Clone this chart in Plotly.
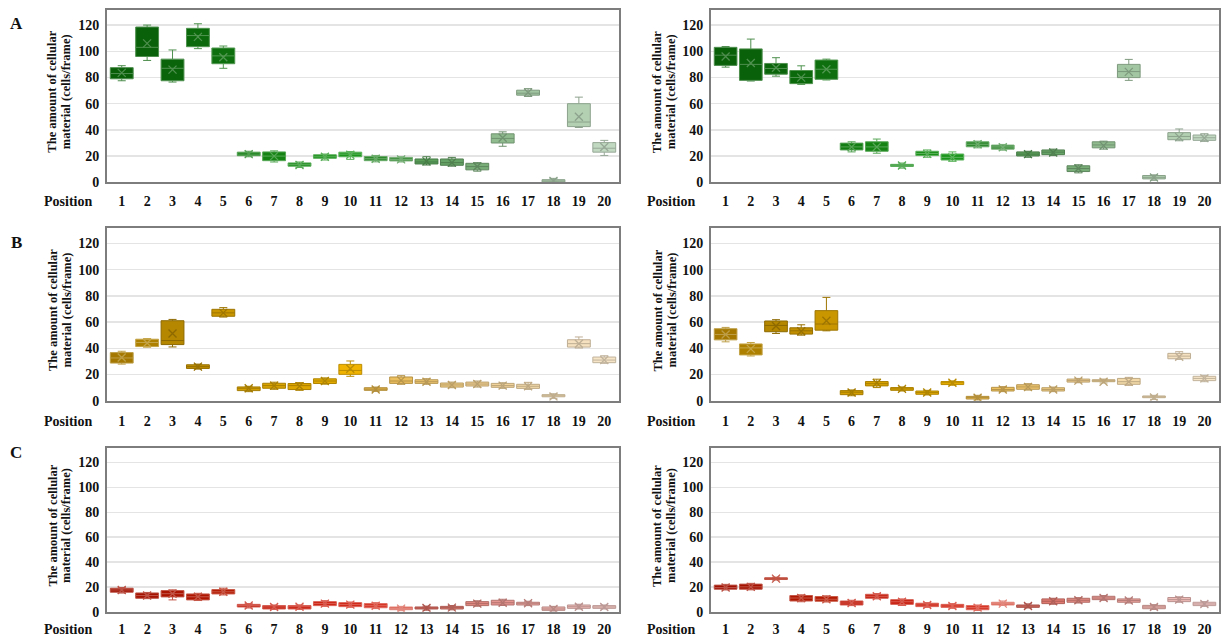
import plotly.graph_objects as go

# ---------------- data ----------------
positions = list(range(1, 21))
tick_labels = [str(p) for p in positions]
y_ticks = [0, 20, 40, 60, 80, 100, 120]
y_tick_labels = [str(v) for v in y_ticks]
panel_letters = ["A", "B", "C"]
y_title_line1 = "The amount of cellular"
y_title_line2 = "material (cells/frame)"
x_title = "Position"

# Panel A (left)
a_left_q1 = [79, 96, 77.5, 103.5, 90.5, 20.3, 16.5, 12.3, 18.3, 19.5, 16.5, 16.3, 14, 13, 9.5, 30, 66.5, 0.2, 42.5, 23]
a_left_med = [83, 103, 87, 112, 96.5, 21.5, 20, 13.5, 19.5, 21.5, 18, 17.5, 15.5, 15, 12, 33.5, 68, 1, 46, 26]
a_left_q3 = [87.5, 118.5, 94, 117.5, 102.5, 23, 23.2, 14.8, 21, 23, 19.7, 19, 17.8, 17.8, 14.5, 37, 70.3, 2, 60, 30.3]
a_left_lo = [77.5, 93, 76.5, 102, 87, 19.5, 15.5, 11.3, 17, 17.5, 15.6, 15.5, 13.2, 12.3, 8.5, 27.5, 65.5, 0, 41.8, 20.5]
a_left_hi = [89, 120, 101, 121, 104, 23.7, 24, 15.5, 21.6, 23.5, 20.5, 19.5, 19.5, 19, 15, 38.5, 71.5, 3, 65, 32]
a_left_mean = [83.5, 106, 86, 111, 95.5, 21.5, 20, 13.2, 19.5, 21, 18, 17.5, 16, 15, 12, 34, 68.5, 1, 50, 27]

# Panel A (right)
a_right_q1 = [89.2, 77.8, 82.5, 75.3, 78.6, 24.7, 23.7, 12.1, 20.4, 17, 27.1, 25.3, 20.1, 21.1, 8.2, 26.3, 79.9, 2.6, 32.5, 32]
a_right_med = [97, 90, 86.9, 80, 86.3, 27, 27, 12.8, 22, 19, 29, 27, 21.5, 23, 10.5, 28.5, 84.5, 3.8, 35, 34]
a_right_q3 = [103, 101.8, 90.7, 85.3, 93.3, 29.9, 30.9, 13.7, 23.7, 21.6, 30.9, 28.4, 23.2, 24.7, 12.6, 30.9, 90, 5.2, 37.9, 36.1]
a_right_lo = [87.9, 77.3, 81, 74.7, 78.1, 23.2, 22.2, 10.8, 19.1, 16, 26.3, 24.5, 19.1, 20.4, 7.2, 25.3, 77.8, 1.5, 31.7, 31.2]
a_right_hi = [103.6, 109.3, 95.1, 88.9, 94, 30.9, 33, 14.7, 24.7, 23.2, 31.4, 28.9, 23.7, 25.3, 13.4, 31.4, 93.8, 5.7, 40.7, 37.1]
a_right_mean = [96, 91, 87.4, 79.9, 86.3, 27, 27, 12.8, 21.7, 19, 29, 26.8, 21.5, 22.7, 10.5, 28, 84.3, 3.6, 34.5, 33.8]

# Panel B (left)
b_left_q1 = [28.7, 41.3, 42.8, 24.6, 64.4, 7.7, 9.5, 8.5, 13.1, 20.1, 7.9, 13.2, 13.2, 10.4, 11.2, 10.2, 9.4, 3, 40.9, 29]
b_left_med = [32.6, 44.4, 45.9, 26, 67, 9.5, 11.5, 11.5, 15, 23.1, 8.8, 15, 14.5, 12, 12.7, 11.5, 11, 3.5, 43.5, 31]
b_left_q3 = [36.7, 46.9, 61, 27.4, 69.7, 10.5, 13.3, 13.1, 16.7, 27.7, 9.9, 18.1, 16, 13.5, 14.2, 13.2, 12.5, 4.6, 46.5, 33.3]
b_left_lo = [27.9, 40.8, 41, 24.1, 63.8, 6.9, 8.7, 7.9, 12.6, 18.6, 7.1, 12.5, 12.5, 9.9, 10.4, 9.4, 8.6, 1.8, 40.2, 28.5]
b_left_hi = [37.7, 47.4, 62, 27.9, 71, 11, 14.1, 13.8, 17.4, 30.3, 10.4, 19.1, 16.8, 14.2, 15, 13.7, 14, 5.3, 48.6, 34.3]
b_left_mean = [33, 44, 51.3, 26, 67, 9.5, 11.5, 11, 15, 24.4, 8.5, 15.5, 14.5, 12, 12.7, 11.5, 11, 3.2, 43.5, 31]

# Panel B (right)
b_right_q1 = [46.4, 34.9, 52.6, 50.8, 53.8, 4.6, 11.3, 7.9, 4.9, 12.3, 1.3, 7.4, 8.7, 7.4, 14.2, 14.5, 12.5, 2.3, 32, 15.3]
b_right_med = [50.5, 40.3, 57.4, 53.3, 58.5, 6.5, 13, 9, 6.3, 13.7, 2.5, 8.5, 10.5, 8.5, 15.3, 15, 14.5, 3, 34, 17]
b_right_q3 = [54.9, 43.3, 60.8, 55.6, 68.7, 7.7, 14.6, 10, 7.4, 14.6, 3.3, 10.2, 12.2, 9.9, 16.5, 16, 17, 3.6, 36.1, 18.6]
b_right_lo = [44.9, 34.1, 51.3, 50, 53.3, 3.8, 10, 7.4, 4.4, 11.8, 0.5, 6.9, 8.1, 6.9, 13.7, 13.5, 11.7, 1, 31.5, 14.5]
b_right_hi = [55.9, 44.4, 61.8, 57.9, 78.8, 8.2, 16.4, 10.5, 7.9, 15.1, 4.1, 10.7, 13, 10.4, 17, 16.5, 17.8, 4.1, 37.4, 19.3]
b_right_mean = [50.5, 39.5, 57, 53, 61, 6.3, 13.5, 9, 6.3, 13.7, 2.3, 8.5, 10.5, 8.5, 15.3, 14.5, 14.5, 2.5, 33.5, 17]

# Panel C (left)
c_left_q1 = [15.7, 10.8, 11.9, 9.5, 14.3, 3.8, 2.2, 2.2, 4.9, 4.1, 3.2, 1.6, 2.2, 2.2, 4.9, 5.4, 5.4, 1.1, 2.7, 2.7]
c_left_med = [17.5, 13, 14.5, 12, 16, 5, 3.8, 4, 6.5, 5.7, 4.8, 2.5, 3, 3.3, 6.5, 7.2, 6.8, 2.2, 4, 3.8]
c_left_q3 = [18.9, 15.1, 17, 14.3, 17.8, 5.9, 4.9, 4.9, 8.1, 7.3, 6.5, 3.8, 3.8, 4.3, 8.1, 9.2, 7.6, 3.8, 5.4, 4.9]
c_left_lo = [15, 10.5, 9.5, 9, 13.5, 3, 1.8, 1.8, 4.3, 3.5, 2.5, 0.8, 1.2, 1.5, 4.4, 5, 4.9, 0.5, 2.2, 2.2]
c_left_hi = [19.5, 15.5, 17.6, 14.8, 18.9, 6.5, 5.4, 5.5, 8.9, 7.8, 7.3, 4.3, 4.5, 5, 8.8, 10, 8.4, 4.3, 6, 5.4]
c_left_mean = [17.5, 13, 14.5, 12, 16, 5, 3.8, 4, 6.5, 5.7, 4.8, 2.5, 3, 3.3, 6.5, 7.2, 6.8, 2.2, 4, 3.8]

# Panel C (right)
c_right_q1 = [18.1, 18.1, 25.9, 8.6, 8.4, 5.4, 10.8, 5.9, 4.1, 3.5, 1.6, 5.4, 3.5, 6.5, 7.6, 9.7, 7.6, 2.4, 8.1, 4.9]
c_right_med = [19.5, 20, 26.6, 11, 10, 7, 12.4, 8, 5.4, 4.6, 3.2, 6.5, 4.6, 8.4, 9.2, 11, 9, 3.8, 9.7, 6.2]
c_right_q3 = [21.4, 22.2, 27.3, 13, 12.2, 8.6, 14, 9.7, 6.8, 5.9, 4.9, 7.6, 5.4, 10.3, 10.8, 12.4, 10.3, 5.1, 11.4, 7.6]
c_right_lo = [17.5, 17.6, 25.5, 8, 7.8, 4.9, 10.3, 5, 3.5, 2.7, 1, 5, 3, 6, 7, 9.2, 7, 1.8, 7.6, 4.3]
c_right_hi = [22, 22.8, 27.8, 13.6, 12.8, 9.2, 14.6, 10.3, 7.3, 6.5, 5.4, 8.6, 6.3, 10.8, 11.3, 13, 10.8, 5.7, 12, 8.1]
c_right_mean = [19.5, 20, 26.6, 11, 10, 7, 12.4, 8, 5.4, 4.6, 3.2, 6.5, 4.6, 8.4, 9.2, 11, 9, 3.8, 9.7, 6.2]

# ---------------- styles ----------------
green_colors = ["#085f08", "#096209", "#0a650a", "#0b690b", "#0d6f0d",
                "#127d12", "#148314", "#178a17", "#1a901a", "#1d961d",
                "#2f8a2f", "#3f8f3f", "#5a9e5a", "#66a366", "#78ad78",
                "#8fbb8f", "#a2c6a2", "#b0ceb0", "#b3d0b3", "#c1d8c1"]
gold_colors = ["#a47800", "#ad8000", "#b58700", "#c28f00", "#c99600",
               "#d49f00", "#d9a300", "#dda600", "#e2aa00", "#f0b400",
               "#e6b64a", "#ebbe5e", "#edc46e", "#efca80", "#f0cf8e",
               "#f1d39a", "#f3d9a8", "#f4ddb4", "#f5e0bf", "#f7e5c8"]
red_colors = ["#a01000", "#a51200", "#aa1400", "#ae1600", "#b31800",
              "#c01a0a", "#c41c0c", "#c81e0e", "#cc2010", "#d02414",
              "#d43020", "#d85a4c", "#dc6c62", "#e07a70", "#e48a82",
              "#e79590", "#e9a09b", "#ecb0ab", "#efbbb7", "#f1c4c0"]

FONT = "Liberation Serif, Times New Roman, serif"
FRAME = "#7d7d7d"
GRID = "#e4e4e4"

W, H = 1223, 638
col_px = [(107, 619), (711, 1219)]
row_px = [(10, 182.3), (228.3, 400.7), (448.3, 611.7)]
row_ticklen = [5, 6, 3]
row_label_offset = [19.5, 21, 17.3]


def hex_to_rgb(h):
    h = h.lstrip("#")
    return tuple(int(h[i:i + 2], 16) for i in (0, 2, 4))


def mix(h, target, t):
    r, g, b = hex_to_rgb(h)
    tr, tg, tb = target
    return "rgb(%d,%d,%d)" % (round(r + (tr - r) * t), round(g + (tg - g) * t), round(b + (tb - b) * t))


def edge_color(h):
    r, g, b = hex_to_rgb(h)
    lum = (0.299 * r + 0.587 * g + 0.114 * b) / 255
    if lum < 0.5:
        return mix(h, (255, 255, 255), 0.28)
    return mix(h, (0, 0, 0), 0.22)


panels = [
    (a_left_q1, a_left_med, a_left_q3, a_left_lo, a_left_hi, a_left_mean, green_colors),
    (a_right_q1, a_right_med, a_right_q3, a_right_lo, a_right_hi, a_right_mean, green_colors),
    (b_left_q1, b_left_med, b_left_q3, b_left_lo, b_left_hi, b_left_mean, gold_colors),
    (b_right_q1, b_right_med, b_right_q3, b_right_lo, b_right_hi, b_right_mean, gold_colors),
    (c_left_q1, c_left_med, c_left_q3, c_left_lo, c_left_hi, c_left_mean, red_colors),
    (c_right_q1, c_right_med, c_right_q3, c_right_lo, c_right_hi, c_right_mean, red_colors),
]

fig = go.Figure()
layout_axes = {}
annotations = []

for k, (q1, med, q3, lo, hi, mean, colors) in enumerate(panels):
    row, col = divmod(k, 2)
    n = k + 1
    xa = "x" if n == 1 else "x%d" % n
    ya = "y" if n == 1 else "y%d" % n
    for i, p in enumerate(positions):
        fig.add_trace(go.Box(
            x=[p], q1=[q1[i]], median=[med[i]], q3=[q3[i]],
            lowerfence=[lo[i]], upperfence=[hi[i]],
            width=0.9, whiskerwidth=0.35,
            fillcolor=colors[i], line=dict(color=edge_color(colors[i]), width=1),
            boxpoints=False, showlegend=False, hoverinfo="skip",
            xaxis=xa, yaxis=ya))
    fig.add_trace(go.Scatter(
        x=positions, y=mean, mode="markers", showlegend=False, hoverinfo="skip",
        marker=dict(symbol="x-thin", size=8,
                    color=[edge_color(c) for c in colors],
                    line=dict(width=1.3, color=[edge_color(c) for c in colors])),
        xaxis=xa, yaxis=ya))

    x0, x1 = col_px[col]
    yt, yb = row_px[row]
    xdom = [x0 / W, x1 / W]
    ydom = [1 - yb / H, 1 - yt / H]
    xkey = "xaxis" if n == 1 else "xaxis%d" % n
    ykey = "yaxis" if n == 1 else "yaxis%d" % n
    layout_axes[xkey] = dict(
        domain=xdom, anchor=ya, range=[0.42, 20.58],
        tickmode="array", tickvals=positions, ticktext=tick_labels,
        tickfont=dict(family=FONT, size=14, color="#111", weight="bold"),
        ticks="outside", ticklen=row_ticklen[row], tickcolor="rgba(0,0,0,0)",
        showline=True, linecolor=FRAME, linewidth=2, mirror=True,
        showgrid=False, zeroline=False, fixedrange=True, automargin=False)
    layout_axes[ykey] = dict(
        domain=ydom, anchor=xa, range=[0, 131.5],
        tickmode="array", tickvals=y_ticks, ticktext=y_tick_labels,
        tickfont=dict(family=FONT, size=14, color="#111", weight="bold"),
        ticks="outside", ticklen=3, tickcolor="rgba(0,0,0,0)",
        showline=True, linecolor=FRAME, linewidth=2, mirror=True,
        showgrid=True, gridcolor=GRID, gridwidth=1.5, zeroline=False,
        fixedrange=True, automargin=False)

    # y-axis title (two lines)
    ymid = 1 - ((yt + yb) / 2 - 4) / H
    tx = [52.5, 66] if col == 0 else [657, 671]
    for line, xx in zip([y_title_line1, y_title_line2], tx):
        annotations.append(dict(
            text=line, x=xx / W, y=ymid, xref="paper", yref="paper",
            textangle=-90, showarrow=False, xanchor="center", yanchor="middle",
            font=dict(family=FONT, size=12.5, color="#111", weight="bold")))
    # "Position"
    px = 68 if col == 0 else 671
    annotations.append(dict(
        text=x_title, x=px / W, y=1 - (yb + row_label_offset[row]) / H, xref="paper", yref="paper",
        showarrow=False, xanchor="center", yanchor="middle",
        font=dict(family=FONT, size=14, color="#111", weight="bold")))

letter_y = [24, 242, 452]
for letter, ly in zip(panel_letters, letter_y):
    annotations.append(dict(
        text=letter, x=16 / W, y=1 - ly / H, xref="paper", yref="paper",
        showarrow=False, xanchor="center", yanchor="middle",
        font=dict(family=FONT, size=17, color="#111", weight="bold")))

fig.update_layout(
    width=W, height=H,
    margin=dict(l=0, r=0, t=0, b=0),
    paper_bgcolor="white", plot_bgcolor="white",
    annotations=annotations,
    **layout_axes)

# remove the default page margin so the figure fills the window exactly
fig.write_html("out.html",
               config={"displayModeBar": False, "staticPlot": True},
               post_script="document.body.style.margin='0';document.body.style.overflow='hidden';")
